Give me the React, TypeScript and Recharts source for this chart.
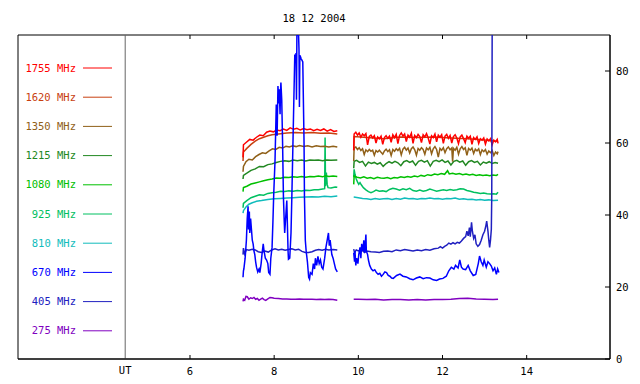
import { Line, LineChart, ReferenceArea, ReferenceLine, XAxis, YAxis } from "recharts";

const title = "18 12 2004";
const freqs = ["1755", "1620", "1350", "1215", "1080", "925", "810", "670", "405", "275"];
const colors = ["#ff0000", "#c84010", "#906018", "#228822", "#00c000", "#00c060", "#10bcbc", "#0000ff", "#2020c0", "#8000c0"];
const xTicks = [4.46, 6, 8, 10, 12, 14];
const yTicks = [0, 20, 40, 60, 80];
const utHour = 4.46;
const gapHour = 9.7;
const xDomain = [1.913, 15.98];
const yDomain = [0, 90];

// each series: [ [hour, value]... before gap ], [ ...after gap ]
const s1755 = [
  [[7.26, 56.0], [7.27, 59.5], [7.34, 60.2], [7.42, 61.0], [7.5, 60.8], [7.58, 61.6], [7.66, 62.2], [7.74, 62.0], [7.82, 63.0], [7.9, 63.3], [7.98, 63.1], [8.06, 63.6], [8.14, 63.4], [8.22, 63.9], [8.3, 63.5], [8.38, 64.2], [8.46, 63.8], [8.54, 64.1], [8.62, 63.6], [8.7, 64.0], [8.78, 63.7], [8.86, 63.9], [8.94, 63.4], [9.02, 63.8], [9.1, 63.5], [9.18, 63.9], [9.26, 63.3], [9.34, 63.7], [9.42, 63.2], [9.5, 63.4]],
  [[9.89, 58.0], [9.9, 62.5], [9.94, 63.0], [9.98, 62.2], [10.02, 62.8], [10.06, 61.6], [10.1, 62.5], [10.14, 62.0], [10.18, 62.6], [10.22, 59.5], [10.26, 61.8], [10.3, 62.2], [10.34, 61.4], [10.38, 62.0], [10.42, 60.0], [10.46, 61.7], [10.5, 61.2], [10.54, 61.9], [10.58, 59.6], [10.62, 61.5], [10.66, 62.0], [10.7, 61.3], [10.74, 61.9], [10.78, 60.2], [10.82, 62.3], [10.86, 61.5], [10.9, 62.4], [10.94, 59.8], [10.98, 62.1], [11.02, 62.8], [11.06, 61.9], [11.1, 62.5], [11.14, 60.4], [11.18, 62.2], [11.22, 61.6], [11.26, 62.7], [11.3, 59.9], [11.34, 62.1], [11.38, 61.5], [11.42, 62.4], [11.46, 61.8], [11.5, 60.1], [11.54, 62.3], [11.58, 61.7], [11.62, 62.6], [11.66, 61.4], [11.7, 59.7], [11.74, 62.0], [11.78, 61.5], [11.82, 62.5], [11.86, 60.3], [11.9, 62.2], [11.94, 61.6], [11.98, 62.3], [12.02, 59.9], [12.06, 61.9], [12.1, 62.4], [12.14, 61.3], [12.18, 62.1], [12.22, 60.0], [12.26, 61.8], [12.3, 62.3], [12.34, 61.4], [12.38, 59.8], [12.42, 61.7], [12.46, 62.2], [12.5, 61.2], [12.54, 60.1], [12.58, 61.9], [12.62, 61.3], [12.66, 61.9], [12.7, 59.6], [12.74, 61.5], [12.78, 61.0], [12.82, 61.7], [12.86, 59.9], [12.9, 61.2], [12.94, 60.8], [12.98, 61.4], [13.02, 59.7], [13.06, 61.1], [13.1, 60.6], [13.14, 61.2], [13.18, 59.5], [13.22, 60.8], [13.26, 60.3], [13.3, 61.0], [13.32, 59.9]],
];
const s1620 = [
  [[7.26, 55.0], [7.27, 57.5], [7.35, 58.5], [7.45, 59.6], [7.55, 60.5], [7.65, 61.2], [7.75, 61.6], [7.85, 62.0], [7.95, 62.3], [8.1, 62.5], [8.3, 62.8], [8.5, 62.9], [8.7, 62.8], [8.9, 62.9], [9.1, 62.7], [9.3, 62.8], [9.5, 62.5]],
  [[9.89, 58.0], [9.9, 61.8], [10.2, 61.5], [10.6, 61.2], [11.0, 61.7], [11.4, 61.5], [11.8, 61.7], [12.2, 61.4], [12.6, 61.2], [13.0, 60.8], [13.32, 60.4]],
];
const s1350 = [
  [[7.26, 52.0], [7.27, 53.5], [7.33, 54.8], [7.4, 55.5], [7.48, 55.3], [7.56, 56.2], [7.64, 56.8], [7.72, 57.3], [7.8, 57.1], [7.88, 57.8], [7.96, 58.4], [8.04, 58.2], [8.12, 58.8], [8.2, 58.6], [8.28, 59.1], [8.36, 58.9], [8.44, 59.2], [8.52, 59.0], [8.6, 59.3], [8.7, 59.0], [8.8, 59.2], [8.9, 58.9], [9.0, 59.2], [9.1, 59.0], [9.2, 59.1], [9.3, 58.9], [9.4, 59.1], [9.5, 58.9]],
  [[9.89, 55.0], [9.9, 58.6], [9.94, 58.9], [9.98, 58.2], [10.02, 58.7], [10.06, 57.9], [10.1, 58.4], [10.14, 56.8], [10.18, 58.1], [10.22, 57.6], [10.26, 58.2], [10.3, 57.7], [10.34, 58.0], [10.38, 56.6], [10.42, 57.9], [10.46, 57.5], [10.5, 58.0], [10.54, 57.4], [10.58, 56.9], [10.62, 57.8], [10.66, 58.3], [10.7, 57.6], [10.74, 58.1], [10.78, 56.5], [10.82, 58.2], [10.86, 57.7], [10.9, 58.4], [10.94, 57.9], [10.98, 58.5], [11.02, 56.7], [11.06, 58.3], [11.1, 58.8], [11.14, 58.0], [11.18, 58.6], [11.22, 57.2], [11.26, 58.4], [11.3, 58.9], [11.34, 58.1], [11.38, 56.6], [11.42, 58.5], [11.46, 58.0], [11.5, 58.7], [11.54, 58.2], [11.58, 56.9], [11.62, 58.6], [11.66, 58.1], [11.7, 58.8], [11.74, 57.0], [11.78, 58.4], [11.82, 59.0], [11.86, 58.2], [11.9, 56.1], [11.94, 58.5], [11.98, 58.0], [12.02, 58.7], [12.06, 57.3], [12.1, 58.4], [12.14, 58.9], [12.18, 58.1], [12.22, 58.6], [12.24, 54.8], [12.26, 58.5], [12.3, 58.0], [12.34, 58.8], [12.38, 56.9], [12.42, 58.4], [12.46, 59.0], [12.5, 58.2], [12.54, 58.7], [12.58, 56.6], [12.62, 58.5], [12.66, 58.0], [12.7, 58.6], [12.74, 57.1], [12.78, 58.3], [12.82, 57.8], [12.86, 58.4], [12.9, 56.8], [12.94, 58.1], [12.98, 57.6], [13.02, 58.2], [13.06, 56.9], [13.1, 57.8], [13.14, 57.3], [13.18, 57.9], [13.22, 56.5], [13.26, 57.5], [13.3, 57.0], [13.32, 57.6]],
];
const s1215 = [
  [[7.26, 50.0], [7.27, 51.0], [7.35, 51.6], [7.45, 52.4], [7.55, 52.8], [7.65, 53.5], [7.75, 53.4], [7.85, 54.0], [7.95, 54.2], [8.05, 54.6], [8.15, 54.9], [8.25, 55.1], [8.35, 54.9], [8.45, 55.3], [8.55, 55.1], [8.65, 55.3], [8.75, 55.0], [8.85, 55.3], [8.95, 55.2], [9.05, 55.3], [9.15, 55.1], [9.25, 55.3], [9.35, 55.2], [9.5, 55.3]],
  [[9.89, 53.0], [9.9, 54.9], [9.96, 55.2], [10.03, 54.6], [10.1, 54.9], [10.17, 53.6], [10.24, 54.7], [10.31, 54.3], [10.38, 54.6], [10.45, 54.1], [10.52, 54.5], [10.59, 53.5], [10.66, 54.3], [10.73, 54.8], [10.8, 54.4], [10.87, 54.9], [10.94, 54.5], [11.01, 53.7], [11.08, 54.8], [11.15, 55.1], [11.22, 54.6], [11.29, 55.0], [11.36, 53.8], [11.43, 54.9], [11.5, 55.2], [11.57, 54.7], [11.64, 55.1], [11.71, 53.6], [11.78, 54.9], [11.85, 55.2], [11.92, 54.8], [11.99, 55.3], [12.06, 54.6], [12.13, 55.0], [12.2, 53.9], [12.27, 54.9], [12.34, 55.2], [12.41, 54.7], [12.48, 55.0], [12.55, 53.8], [12.62, 54.8], [12.69, 55.1], [12.76, 54.6], [12.83, 54.9], [12.9, 53.9], [12.97, 54.7], [13.04, 54.4], [13.11, 54.8], [13.18, 54.3], [13.25, 54.6], [13.32, 54.4]],
];
const s1080 = [
  [[7.26, 46.5], [7.27, 47.6], [7.35, 48.0], [7.45, 48.6], [7.55, 48.9], [7.65, 49.2], [7.75, 49.5], [7.85, 49.8], [7.95, 50.0], [8.05, 50.3], [8.15, 50.2], [8.25, 50.5], [8.35, 50.4], [8.45, 50.6], [8.55, 50.5], [8.65, 50.7], [8.75, 50.5], [8.85, 50.7], [8.95, 50.6], [9.05, 50.8], [9.15, 50.6], [9.22, 50.9], [9.3, 50.7], [9.4, 50.8], [9.5, 50.7]],
  [[9.89, 48.5], [9.9, 50.8], [9.97, 50.5], [10.05, 50.3], [10.13, 50.6], [10.21, 50.2], [10.29, 50.4], [10.37, 50.1], [10.45, 50.5], [10.53, 50.3], [10.61, 50.2], [10.69, 50.4], [10.77, 50.1], [10.85, 50.4], [10.93, 50.3], [11.01, 50.6], [11.09, 50.4], [11.17, 50.7], [11.25, 50.5], [11.33, 50.8], [11.41, 50.6], [11.49, 51.0], [11.57, 50.8], [11.65, 51.2], [11.73, 51.0], [11.81, 51.4], [11.89, 51.2], [11.97, 51.5], [12.05, 51.3], [12.12, 52.3], [12.16, 51.4], [12.24, 51.6], [12.32, 51.3], [12.4, 51.5], [12.48, 51.2], [12.56, 51.4], [12.64, 51.1], [12.72, 51.3], [12.8, 51.0], [12.88, 51.2], [12.96, 51.0], [13.04, 51.1], [13.12, 50.9], [13.2, 51.1], [13.28, 51.0], [13.32, 51.3]],
];
const s925 = [
  [[7.26, 42.0], [7.27, 43.2], [7.35, 44.0], [7.45, 44.8], [7.55, 45.2], [7.65, 45.6], [7.75, 45.5], [7.85, 46.0], [7.95, 46.2], [8.05, 46.3], [8.15, 46.6], [8.25, 46.5], [8.35, 46.7], [8.45, 46.6], [8.55, 46.8], [8.65, 46.7], [8.75, 46.9], [8.85, 46.8], [8.95, 47.0], [9.05, 47.0], [9.15, 47.2], [9.2, 47.3], [9.21, 61.5], [9.22, 48.0], [9.24, 51.8], [9.26, 48.5], [9.28, 47.6], [9.35, 47.5], [9.45, 47.8], [9.5, 47.7]],
  [[9.89, 50.5], [9.9, 52.7], [9.92, 51.3], [9.95, 50.0], [9.98, 49.2], [10.01, 48.5], [10.04, 49.0], [10.07, 48.4], [10.12, 47.6], [10.18, 47.0], [10.24, 46.5], [10.3, 46.2], [10.36, 46.5], [10.42, 46.9], [10.5, 46.6], [10.58, 46.7], [10.66, 46.5], [10.74, 47.1], [10.82, 47.4], [10.9, 47.2], [10.98, 46.9], [11.06, 47.3], [11.14, 47.0], [11.22, 47.4], [11.3, 46.8], [11.38, 46.6], [11.46, 46.9], [11.54, 46.6], [11.62, 46.8], [11.7, 47.2], [11.78, 46.9], [11.86, 46.6], [11.94, 46.8], [12.02, 47.0], [12.1, 46.8], [12.18, 47.1], [12.26, 46.9], [12.34, 47.0], [12.42, 47.3], [12.5, 47.2], [12.58, 46.8], [12.66, 46.6], [12.74, 46.3], [12.82, 46.2], [12.9, 46.0], [12.98, 46.1], [13.06, 45.9], [13.14, 45.8], [13.22, 45.9], [13.28, 45.8], [13.32, 46.3]],
];
const s810 = [
  [[7.26, 40.5], [7.27, 41.2], [7.33, 42.2], [7.4, 43.0], [7.48, 43.4], [7.58, 43.8], [7.7, 44.0], [7.85, 44.3], [8.0, 44.5], [8.15, 44.6], [8.3, 44.7], [8.45, 44.8], [8.6, 44.9], [8.75, 45.0], [8.9, 45.1], [9.05, 45.0], [9.2, 45.2], [9.35, 45.1], [9.5, 45.3]],
  [[9.89, 45.0], [10.0, 44.8], [10.1, 44.6], [10.2, 44.5], [10.3, 44.3], [10.4, 44.6], [10.5, 44.4], [10.6, 44.5], [10.7, 44.6], [10.8, 44.3], [10.9, 44.6], [11.0, 44.4], [11.1, 44.7], [11.2, 44.5], [11.3, 44.6], [11.4, 44.4], [11.5, 44.6], [11.6, 44.5], [11.7, 44.7], [11.8, 44.5], [11.9, 44.6], [12.0, 44.4], [12.1, 44.6], [12.2, 44.5], [12.3, 44.7], [12.4, 44.4], [12.5, 44.5], [12.6, 44.3], [12.7, 44.4], [12.8, 44.2], [12.9, 44.3], [13.0, 44.1], [13.1, 44.2], [13.2, 44.0], [13.32, 44.1]],
];
const s670 = [
  [[7.26, 22.7], [7.27, 24.5], [7.28, 25.0], [7.31, 28], [7.34, 33], [7.36, 39], [7.38, 42.4], [7.39, 36], [7.41, 41], [7.42, 35], [7.44, 39], [7.46, 36], [7.48, 33], [7.5, 32], [7.52, 30], [7.54, 29], [7.56, 27], [7.58, 25.5], [7.61, 24.2], [7.64, 25], [7.66, 24.0], [7.69, 26.5], [7.71, 29], [7.74, 32], [7.76, 30], [7.79, 28], [7.82, 27.5], [7.85, 26.5], [7.87, 24], [7.9, 23.5], [7.92, 28], [7.95, 31], [7.97, 38], [7.99, 46], [8.02, 55], [8.05, 70.7], [8.07, 62], [8.09, 75.8], [8.11, 71], [8.12, 74.9], [8.14, 68], [8.15, 74], [8.16, 76.8], [8.18, 72], [8.2, 60], [8.22, 45], [8.24, 38], [8.25, 35], [8.3, 44], [8.33, 30], [8.34, 27.7], [8.37, 28], [8.4, 35], [8.42, 45], [8.45, 62], [8.49, 84.6], [8.5, 82.3], [8.52, 85], [8.53, 72], [8.54, 90], [8.56, 90], [8.58, 90], [8.59, 86], [8.6, 70], [8.61, 84.4], [8.63, 83.8], [8.64, 83.4], [8.66, 83], [8.68, 82.5], [8.71, 60], [8.72, 45], [8.74, 33], [8.76, 30], [8.79, 27], [8.82, 22.7], [8.84, 22.2], [8.86, 24], [8.9, 23.5], [8.93, 26.5], [8.96, 25], [8.98, 28], [9.01, 26], [9.04, 28.5], [9.07, 26.5], [9.1, 27.5], [9.13, 25.5], [9.16, 25], [9.2, 28], [9.23, 31], [9.26, 33], [9.29, 35], [9.31, 31.5], [9.33, 33], [9.37, 29], [9.4, 28], [9.43, 26.5], [9.46, 25], [9.5, 24.2]],
  [[9.89, 29.5], [9.91, 27], [9.92, 30], [9.94, 26], [9.96, 28], [9.99, 26.5], [10.01, 29], [10.04, 31], [10.06, 28], [10.08, 32], [10.11, 30], [10.13, 33], [10.15, 29.5], [10.18, 34.6], [10.19, 30], [10.22, 29], [10.24, 27.5], [10.27, 26], [10.31, 25], [10.35, 24.5], [10.39, 24.8], [10.43, 24], [10.47, 23.5], [10.51, 23.8], [10.55, 23], [10.59, 23.5], [10.63, 24.2], [10.67, 24], [10.71, 23.2], [10.75, 23], [10.79, 22.5], [10.83, 22.4], [10.91, 23.2], [10.99, 23.6], [11.06, 23], [11.14, 22.8], [11.22, 22.3], [11.3, 22], [11.38, 22.5], [11.46, 22.8], [11.54, 22.3], [11.62, 22.6], [11.7, 22.5], [11.78, 22.0], [11.86, 21.8], [11.93, 22.2], [12.01, 22.4], [12.09, 23], [12.15, 24.5], [12.21, 25.5], [12.27, 25], [12.31, 26], [12.37, 25.3], [12.41, 27.5], [12.45, 25.5], [12.49, 25], [12.55, 24.8], [12.61, 26], [12.66, 24.5], [12.73, 23.2], [12.79, 23.5], [12.85, 26.5], [12.88, 28.6], [12.92, 27], [12.96, 26], [12.99, 27.5], [13.04, 25.5], [13.08, 27], [13.12, 26.5], [13.16, 25.8], [13.2, 24.5], [13.24, 25.3], [13.28, 23.5], [13.31, 25], [13.34, 24]],
];
const s405 = [
  [[7.26, 29.0], [7.27, 30.8], [7.3, 29.2], [7.34, 30.4], [7.4, 30.2], [7.48, 30.5], [7.55, 30.3], [7.62, 29.8], [7.7, 29.6], [7.78, 30.0], [7.86, 29.7], [7.94, 30.3], [8.02, 30.6], [8.1, 30.3], [8.18, 30.5], [8.26, 30.2], [8.34, 30.4], [8.42, 30.6], [8.5, 30.3], [8.58, 30.5], [8.66, 29.9], [8.74, 29.6], [8.82, 29.6], [8.9, 29.8], [8.98, 30.2], [9.06, 30.4], [9.14, 30.2], [9.22, 30.5], [9.3, 30.3], [9.4, 30.4], [9.5, 30.3]],
  [[9.89, 30.5], [9.91, 29.5], [9.95, 30.3], [10.0, 30.0], [10.05, 30.4], [10.1, 30.1], [10.15, 29.6], [10.2, 30.0], [10.3, 29.8], [10.4, 29.7], [10.5, 29.6], [10.6, 29.9], [10.7, 30.0], [10.8, 29.8], [10.9, 30.3], [11.0, 30.1], [11.1, 30.4], [11.2, 30.2], [11.3, 30.0], [11.4, 30.3], [11.5, 30.1], [11.6, 30.4], [11.7, 30.2], [11.8, 30.6], [11.9, 30.8], [11.95, 31.2], [12.0, 30.8], [12.05, 31.3], [12.1, 31.6], [12.15, 32.2], [12.2, 31.9], [12.25, 32.3], [12.3, 32.0], [12.35, 32.4], [12.4, 32.2], [12.45, 32.8], [12.5, 33.5], [12.55, 34.0], [12.58, 35.5], [12.61, 34.2], [12.64, 36.5], [12.66, 34.0], [12.69, 38.0], [12.71, 35.5], [12.74, 33.5], [12.77, 34.5], [12.8, 32.0], [12.84, 31.3], [12.88, 31.8], [12.92, 33.0], [12.96, 34.5], [13.0, 35.5], [13.03, 37.0], [13.05, 38.3], [13.08, 35.5], [13.1, 33.0], [13.12, 31.0], [13.14, 33.0], [13.16, 36.0], [13.17, 45.0], [13.18, 90]],
];
const s275 = [
  [[7.26, 16.0], [7.27, 16.6], [7.3, 16.3], [7.33, 17.4], [7.36, 17.3], [7.4, 16.6], [7.44, 17.0], [7.48, 16.8], [7.52, 17.1], [7.56, 16.6], [7.6, 16.8], [7.64, 16.3], [7.68, 16.6], [7.72, 16.9], [7.76, 16.5], [7.8, 16.3], [7.85, 16.7], [7.9, 17.1], [7.95, 17.0], [8.0, 16.9], [8.1, 16.8], [8.2, 16.7], [8.3, 16.7], [8.4, 16.6], [8.5, 16.6], [8.6, 16.7], [8.7, 16.6], [8.8, 16.6], [8.9, 16.6], [9.0, 16.5], [9.1, 16.6], [9.2, 16.5], [9.3, 16.6], [9.4, 16.5], [9.5, 16.3]],
  [[9.89, 16.6], [10.0, 16.6], [10.2, 16.5], [10.4, 16.6], [10.6, 16.4], [10.8, 16.5], [11.0, 16.5], [11.2, 16.4], [11.4, 16.5], [11.6, 16.4], [11.8, 16.5], [12.0, 16.5], [12.2, 16.6], [12.4, 16.8], [12.6, 16.9], [12.8, 16.7], [13.0, 16.6], [13.2, 16.5], [13.32, 16.6]],
];

const seriesData = [s1755, s1620, s1350, s1215, s1080, s925, s810, s670, s405, s275];
// drawing order (index into freqs): bottom first
const drawOrder = [9, 6, 5, 4, 3, 2, 1, 0, 8, 7];

const font = "'DejaVu Sans Mono', monospace";

const toRows = (segs: number[][][]) => [
  ...segs[0].map(([h, v]) => ({ h, v })),
  { h: gapHour, v: null },
  ...segs[1].map(([h, v]) => ({ h, v })),
];

const BottomTick = (props: any) => {
  const { x, y, payload } = props;
  const isUt = payload.value === utHour;
  return (
    <g>
      {!isUt && <line x1={x} y1={y} x2={x} y2={y - 4} stroke="#000" />}
      <text x={x} y={isUt ? y + 15 : y + 16} textAnchor="middle" fontSize={10.5} fontFamily={font} fill="#000">
        {isUt ? "UT" : payload.value}
      </text>
    </g>
  );
};

const RightTick = (props: any) => {
  const { x, y, payload } = props;
  return (
    <g>
      <line x1={x} y1={y} x2={x - 5} y2={y} stroke="#000" />
      <text x={x + 6} y={y + 4} textAnchor="start" fontSize={10.5} fontFamily={font} fill="#000">
        {payload.value}
      </text>
    </g>
  );
};

export default function App() {
  const topTickLen = (yDomain[1] - yDomain[0]) * 4 / 324;
  return (
    <div style={{ position: "absolute", left: 0, top: 0, width: 640, height: 384, background: "#fff" }}>
      <LineChart width={640} height={384} margin={{ top: 35, right: 0, bottom: 0, left: 18 }}>
        <XAxis xAxisId="b" dataKey="h" type="number" domain={xDomain} ticks={xTicks} interval={0}
          height={25} tickSize={0} tickMargin={0} tick={<BottomTick />} tickLine={false}
          axisLine={{ stroke: "#000" }} allowDataOverflow />
        <YAxis yAxisId="r" orientation="right" type="number" domain={yDomain} ticks={yTicks} interval={0}
          width={30} tickSize={0} tickMargin={0} tick={<RightTick />} tickLine={false}
          axisLine={{ stroke: "#000" }} allowDataOverflow />
        <ReferenceArea xAxisId="b" yAxisId="r" x1={xDomain[0]} x2={xDomain[1]} y1={yDomain[0]} y2={yDomain[1]}
          fill="none" fillOpacity={0} stroke="#000" strokeWidth={1} ifOverflow="visible" />
        {xTicks.filter((t) => t !== utHour).map((t) => (
          <ReferenceLine key={"top" + t} xAxisId="b" yAxisId="r" stroke="#000"
            segment={[{ x: t, y: yDomain[1] }, { x: t, y: yDomain[1] - topTickLen }]} />
        ))}
        <ReferenceLine xAxisId="b" yAxisId="r" x={utHour} stroke="#666" />
        {drawOrder.map((i) => (
          <Line key={freqs[i]} xAxisId="b" yAxisId="r" data={toRows(seriesData[i])} dataKey="v"
            type="linear" stroke={colors[i]} strokeWidth={1.5} dot={false} activeDot={false}
            connectNulls={false} isAnimationActive={false} />
        ))}
        <g>
          <text x={314} y={22} textAnchor="middle" fontSize={10.5} fontFamily={font} fill="#000">{title}</text>
          {freqs.map((f, i) => {
            const cy = 68 + i * 29.2;
            return (
              <g key={f}>
                <text x={76} y={cy + 3.5} textAnchor="end" fontSize={10.5} fontFamily={font} fill={colors[i]}>
                  {f} MHz
                </text>
                <line x1={83} y1={cy} x2={112} y2={cy} stroke={colors[i]} strokeWidth={1} />
              </g>
            );
          })}
        </g>
      </LineChart>
    </div>
  );
}
